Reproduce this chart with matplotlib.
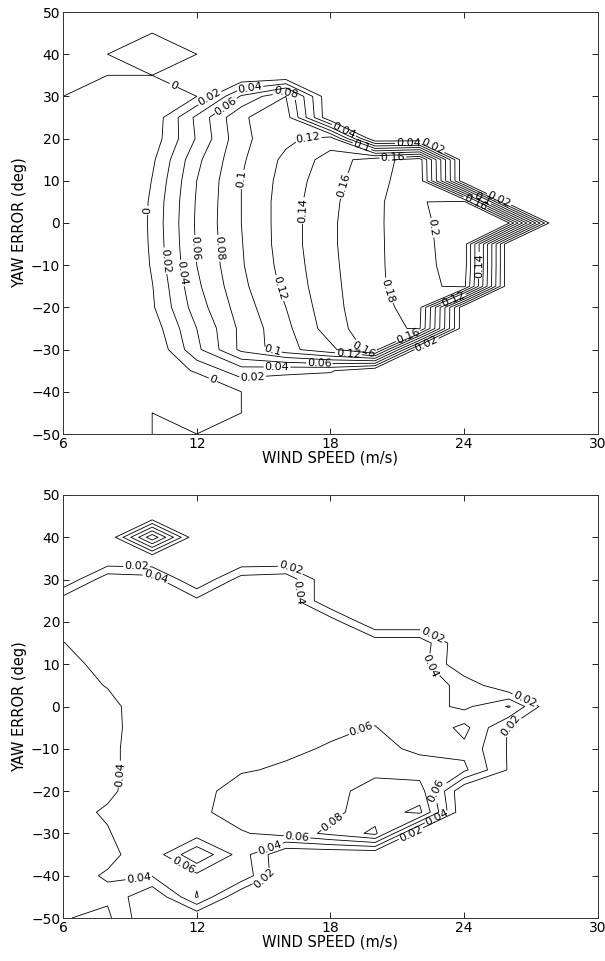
import numpy as np
import matplotlib.pyplot as plt

# grid: wind speed columns, yaw error rows (top row = +50 deg)
wind = [6, 8, 10, 12, 14, 16, 18, 20, 22, 24, 26, 28, 30]
yaw = [50, 45, 40, 35, 30, 25, 20, 15, 10, 5, 0, -5, -10, -15, -20, -25, -30, -35, -40, -45, -50]

# upper plot
top_z = [
    [0, 0, 0, 0, 0, 0, 0, 0, 0, 0, 0, 0, 0],
    [0, 0, 0, 0, 0, 0, 0, 0, 0, 0, 0, 0, 0],
    [0, 0, -0.01, 0, 0, 0, 0, 0, 0, 0, 0, 0, 0],
    [0, 0, 0, 0, 0, 0, 0, 0, 0, 0, 0, 0, 0],
    [0, -0.05, -0.02, 0, 0.0625, 0.1, 0, 0, 0, 0, 0, 0, 0],
    [-0.06, -0.05, -0.015, 0.045, 0.098, 0.11, 0, 0, 0, 0, 0, 0, 0],
    [-0.06, -0.05, -0.012, 0.042, 0.095, 0.115, 0.13, 0, 0, 0, 0, 0, 0],
    [-0.06, -0.05, -0.004, 0.055, 0.097, 0.125, 0.148, 0.172, 0.19, 0, 0, 0, 0],
    [-0.06, -0.05, 0.001, 0.06, 0.1, 0.128, 0.153, 0.174, 0.192, 0, 0, 0, 0],
    [-0.06, -0.05, 0.005, 0.062, 0.1, 0.13, 0.156, 0.175, 0.199, 0.205, 0, 0, 0],
    [-0.06, -0.05, 0.006, 0.063, 0.1, 0.13, 0.157, 0.176, 0.196, 0.21, 0.202, 0, 0],
    [-0.06, -0.05, 0.005, 0.062, 0.099, 0.13, 0.157, 0.176, 0.195, 0.21, 0, 0, 0],
    [-0.06, -0.05, 0.003, 0.06, 0.098, 0.128, 0.156, 0.176, 0.194, 0.21, 0, 0, 0],
    [-0.06, -0.05, -0.001, 0.056, 0.095, 0.125, 0.155, 0.175, 0.195, 0.205, 0, 0, 0],
    [-0.06, -0.05, -0.003, 0.05, 0.09, 0.12, 0.153, 0.176, 0.185, 0, 0, 0, 0],
    [-0.06, -0.05, -0.012, 0.04, 0.085, 0.115, 0.15, 0.175, 0.182, 0, 0, 0, 0],
    [-0.06, -0.05, -0.02, 0.035, 0.085, 0.113, 0.135, 0.17, 0, 0, 0, 0, 0],
    [-0.06, -0.05, -0.03, 0.005, 0.03, 0.025, 0.022, 0, 0, 0, 0, 0, 0],
    [-0.06, -0.05, -0.04, -0.04, 0, 0, 0, 0, 0, 0, 0, 0, 0],
    [-0.06, -0.05, 0, -0.04, 0, 0, 0, 0, 0, 0, 0, 0, 0],
    [-0.06, -0.05, 0, 0, 0, 0, 0, 0, 0, 0, 0, 0, 0],
]
top_levels = [0, 0.02, 0.04, 0.06, 0.08, 0.1, 0.12, 0.14, 0.16, 0.18, 0.2]

# lower plot
bottom_z = [
    [0, 0, 0, 0, 0, 0, 0, 0, 0, 0, 0, 0, 0],
    [0, 0, 0, 0, 0, 0, 0, 0, 0, 0, 0, 0, 0],
    [0, 0, 0.115, 0, 0, 0, 0, 0, 0, 0, 0, 0, 0],
    [0, 0, 0, 0, 0, 0, 0, 0, 0, 0, 0, 0, 0],
    [0, 0.055, 0.05, 0, 0.05, 0.055, 0, 0, 0, 0, 0, 0, 0],
    [0.052, 0.055, 0.054, 0.046, 0.052, 0.055, 0, 0, 0, 0, 0, 0, 0],
    [0.046, 0.053, 0.052, 0.052, 0.052, 0.054, 0.052, 0, 0, 0, 0, 0, 0],
    [0.0395, 0.05, 0.052, 0.052, 0.052, 0.053, 0.053, 0.054, 0.054, 0, 0, 0, 0],
    [0.035, 0.045, 0.052, 0.052, 0.052, 0.052, 0.052, 0.052, 0.05, 0, 0, 0, 0],
    [0.033, 0.0408, 0.051, 0.052, 0.052, 0.052, 0.052, 0.052, 0.05, 0.035, 0, 0, 0],
    [0.033, 0.0355, 0.05, 0.052, 0.052, 0.052, 0.053, 0.05, 0.05, 0.035, 0.062, 0, 0],
    [0.033, 0.035, 0.05, 0.052, 0.052, 0.053, 0.056, 0.061, 0.042, 0.066, 0.018, 0, 0],
    [0.033, 0.036, 0.05, 0.052, 0.053, 0.056, 0.062, 0.066, 0.056, 0.055, 0.018, 0, 0],
    [0.033, 0.036, 0.05, 0.052, 0.058, 0.063, 0.068, 0.077, 0.07, 0.064, 0.018, 0, 0],
    [0.032, 0.037, 0.05, 0.052, 0.07, 0.07, 0.076, 0.085, 0.09, 0, 0, 0, 0],
    [0.034, 0.042, 0.052, 0.055, 0.07, 0.072, 0.075, 0.09, 0.105, 0, 0, 0, 0],
    [0.034, 0.0387, 0.054, 0.05, 0.058, 0.068, 0.085, 0.105, 0, 0, 0, 0, 0],
    [0.035, 0.037, 0.047, 0.098, 0.05, 0, 0, 0, 0, 0, 0, 0, 0],
    [0.035, 0.0413, 0.041, 0.055, 0.055, 0, 0, 0, 0, 0, 0, 0, 0],
    [0.03, 0.037, 0, 0.062, 0, 0, 0, 0, 0, 0, 0, 0, 0],
    [0.039, 0.044, 0, 0, 0, 0, 0, 0, 0, 0, 0, 0, 0],
]
bottom_levels = [0.02, 0.04, 0.06, 0.08, 0.1]

xticks = [6, 12, 18, 24, 30]
yticks = [-50, -40, -30, -20, -10, 0, 10, 20, 30, 40, 50]

# where the contour labels sit (wind, yaw)
top_label_pos = [
    (9.8, 3), (10.5, -9), (11.2, -12), (12, -6), (13, -6), (14.3, 10),
    (15.4, -16), (16.6, 3), (18.5, 9), (20.6, -16), (22.8, -1),
    (11, 33), (12.6, 29.5), (13.2, 28.5), (14.4, 31.5), (16, 31), (17, 20),
    (18.6, 22), (19.4, 18), (21.5, 18.8), (22.6, 18.4), (20.8, 15.2),
    (24.8, 5.6), (25.6, 6), (24.5, 4.8), (24.6, -10), (23.5, -18),
    (12.7, -37.5), (14.5, -36.5), (15.6, -34.8), (17.5, -33),
    (15.4, -29.5), (18.8, -31), (19.5, -29.6), (21.5, -27), (22.3, -28.5),
]
bottom_label_pos = [
    (9.3, 33), (10.1, 30), (16.2, 32.5), (16.3, 27),
    (22.5, 16), (22.6, 10.2), (26.7, 1.5), (26, -4),
    (19.5, -7), (8.6, -16), (9.4, -40.5), (11.2, -39.3),
    (16.5, -30.8), (15.3, -33.5), (15, -40), (18, -26.8), (22.6, -19),
    (21.6, -30), (22.8, -26.5),
]


def label_fmt(v):
    return '%g' % (round(v, 2) + 0)


def contour_panel(ax, z, levels, label_pos):
    # levels nudged just under the nominal value so grid points sitting
    # exactly on a level count as inside (like the original plotting tool)
    cs = ax.contour(wind, yaw, np.array(z), levels=np.array(levels) - 1e-9,
                    colors='k', linewidths=0.6, negative_linestyles='solid')
    ax.clabel(cs, fmt=label_fmt, fontsize=8, inline_spacing=1, manual=label_pos)
    ax.set_xlim(6, 30)
    ax.set_ylim(-50, 50)
    ax.set_xticks(xticks)
    ax.set_yticks(yticks)
    ax.tick_params(direction='in', top=True, right=True, labelsize=10,
                   length=4, width=0.6, pad=2)
    for s in ax.spines.values():
        s.set_linewidth(0.7)
        s.set_color('#333333')
    ax.set_xlabel('WIND SPEED (m/s)', fontsize=10.5, labelpad=0)
    ax.set_ylabel('YAW ERROR (deg)', fontsize=10.5, labelpad=3)


fig = plt.figure(figsize=(6.05, 9.61), dpi=100)
ax1 = fig.add_axes([63 / 605, 1 - 434 / 961, 535 / 605, 422 / 961])
ax2 = fig.add_axes([63 / 605, 1 - 918 / 961, 535 / 605, 423 / 961])

contour_panel(ax1, top_z, top_levels, top_label_pos)
contour_panel(ax2, bottom_z, bottom_levels, bottom_label_pos)

fig.savefig('out.png', dpi=100)
